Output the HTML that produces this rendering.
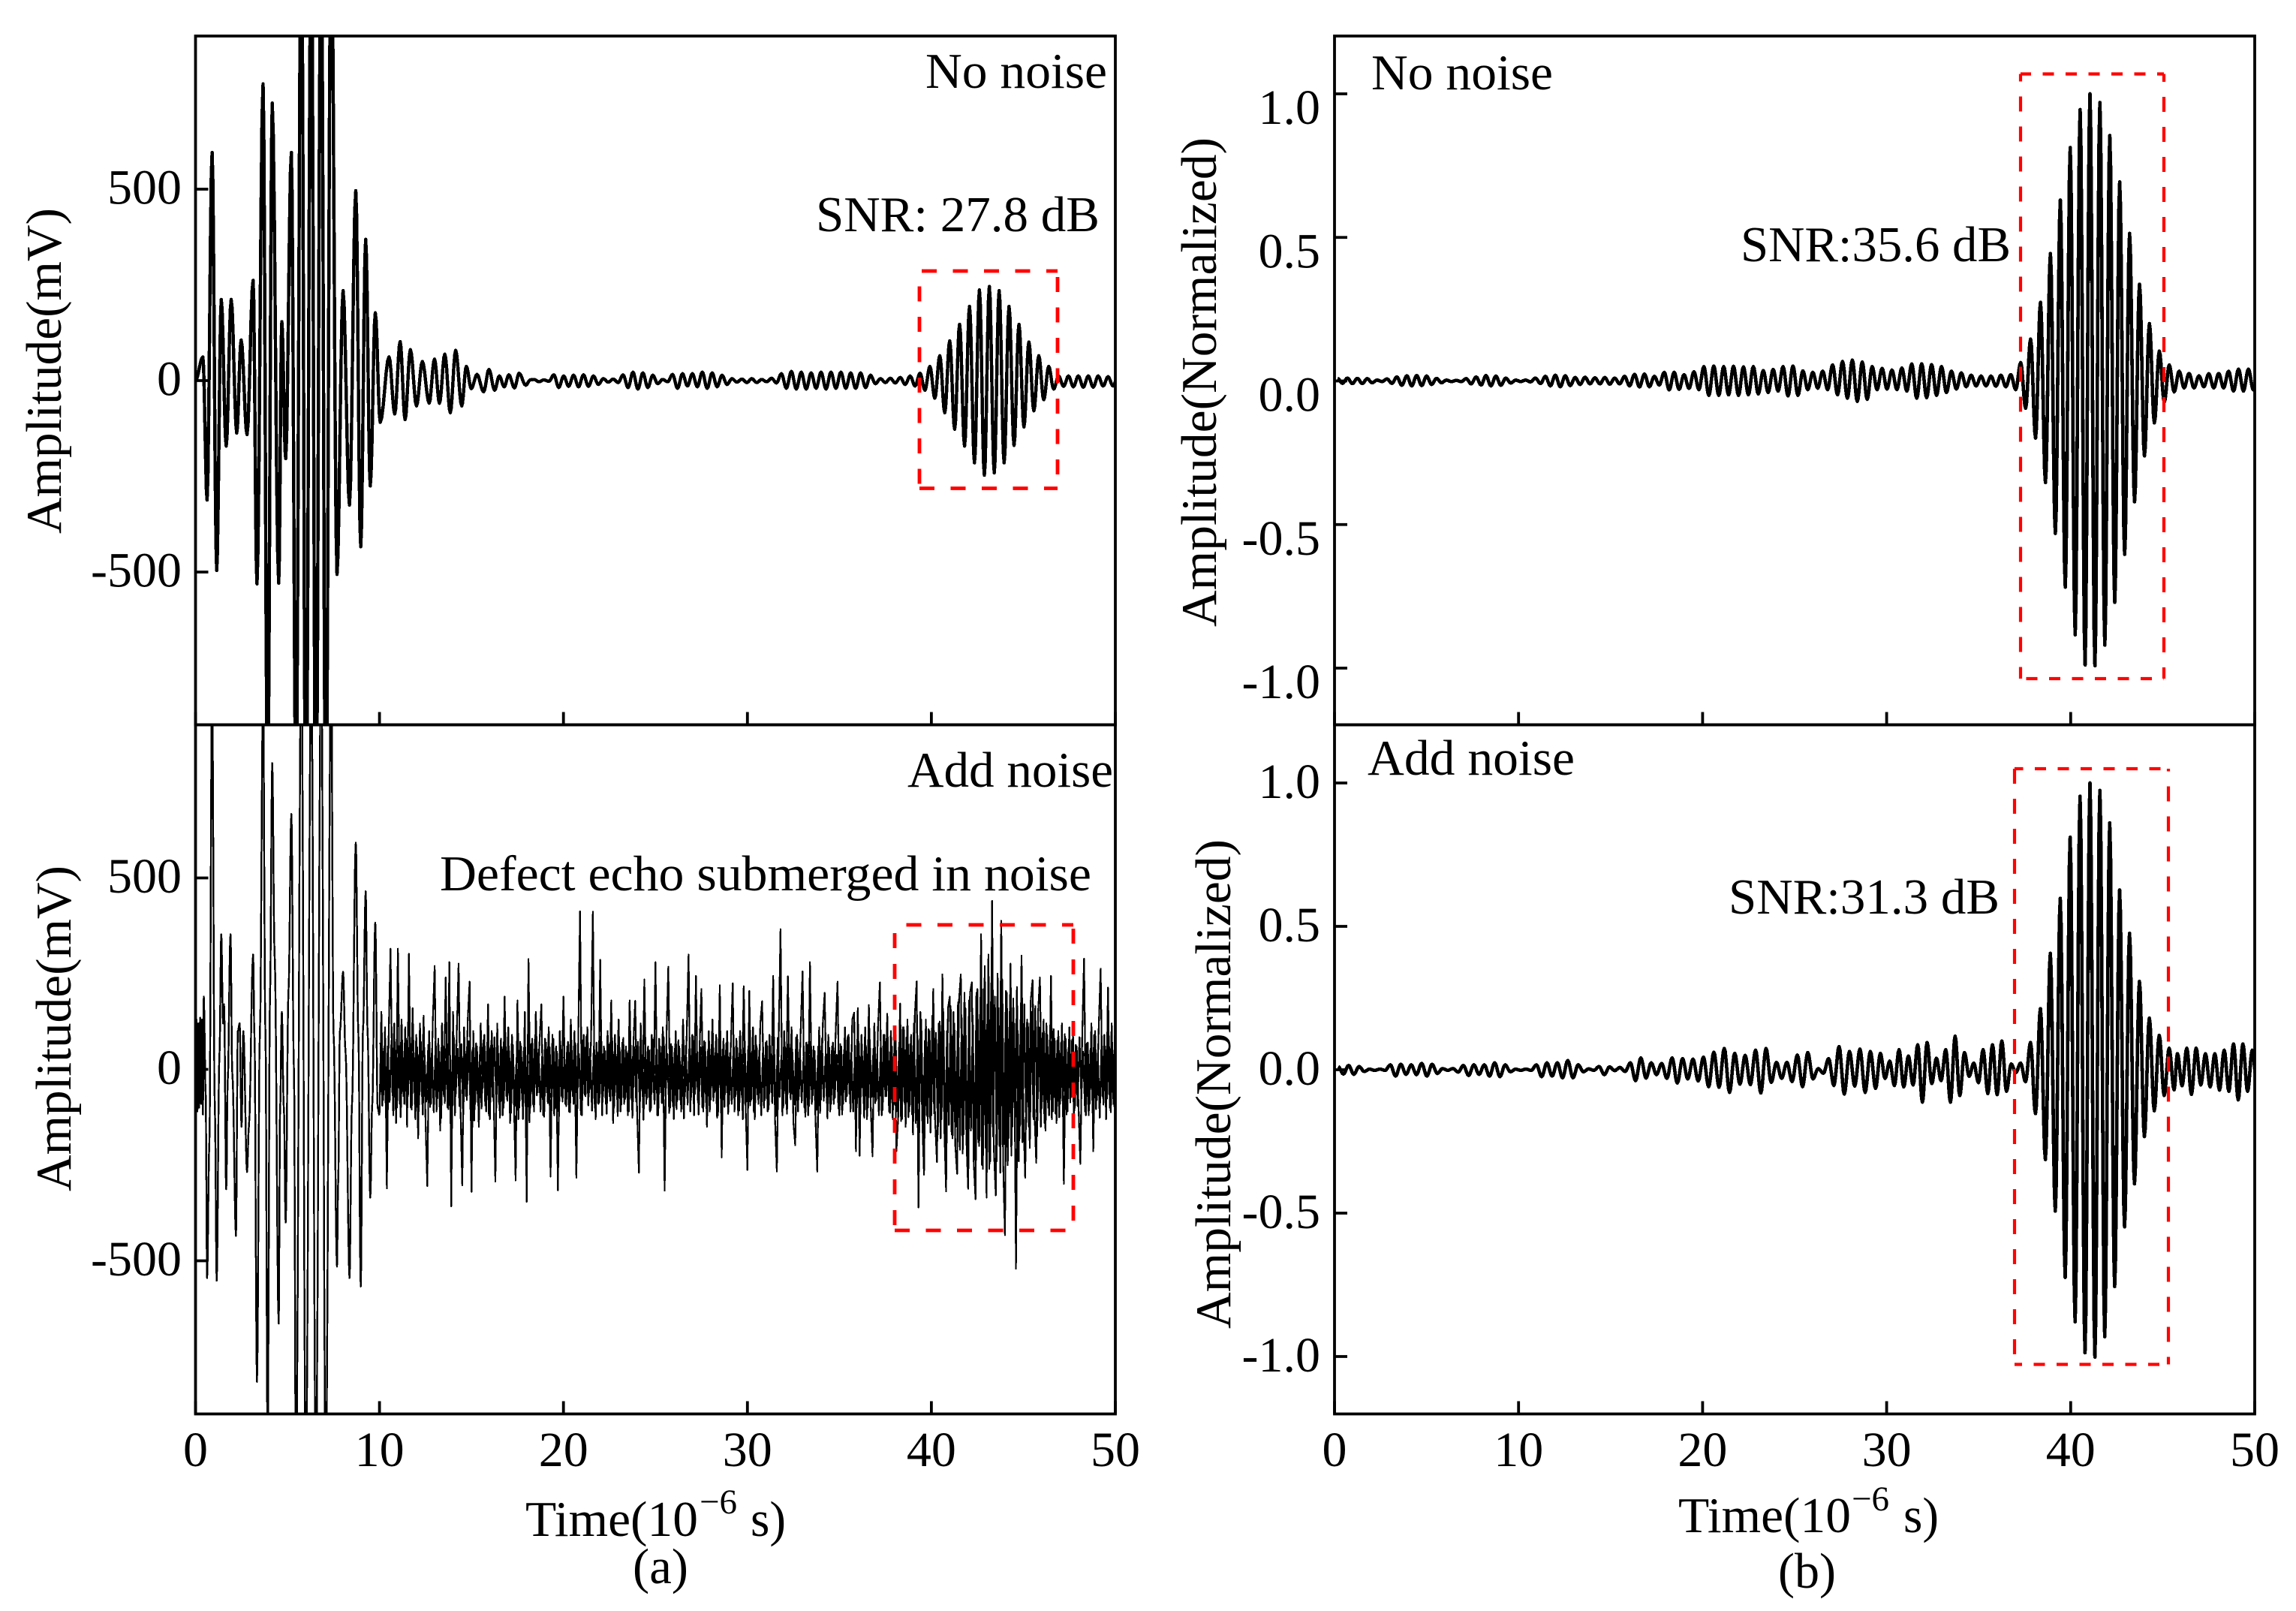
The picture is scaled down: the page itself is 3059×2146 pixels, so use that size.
<!DOCTYPE html>
<html>
<head>
<meta charset="utf-8">
<title>Ultrasonic echo signals</title>
<style>
html,body{margin:0;padding:0;background:#fff}
svg{display:block}
text{font-family:"Liberation Serif",serif;fill:#000;font-size:67px}
</style>
</head>
<body>
<svg id="chart" xmlns="http://www.w3.org/2000/svg" width="3059" height="2146" viewBox="0 0 3059 2146">
<rect width="3059" height="2146" fill="#fff"/>
<defs>
<clipPath id="clip-a-top"><rect x="260.5" y="48" width="1225.5" height="918"/></clipPath>
<clipPath id="clip-a-bottom"><rect x="260.5" y="965.5" width="1225.5" height="918"/></clipPath>
<clipPath id="clip-b-top"><rect x="1778" y="48" width="1226" height="918"/></clipPath>
<clipPath id="clip-b-bottom"><rect x="1778" y="965.5" width="1226" height="918"/></clipPath>
</defs>
<g id="traces"></g>
<g id="axes"></g>

<g stroke="#f00" stroke-width="4.8" fill="none">
<line x1="1225" y1="650.5" x2="1409" y2="650.5" stroke-dasharray="20 21.5"/>
<line x1="1409" y1="650.5" x2="1409" y2="361" stroke-dasharray="20 20.5" stroke-dashoffset="22"/>
<line x1="1409" y1="361" x2="1225" y2="361" stroke-dasharray="20 21.5" stroke-dashoffset="5"/>
<line x1="1225" y1="361" x2="1225" y2="650.5" stroke-dasharray="20 20.5" stroke-dashoffset="20"/>
</g>
<g stroke="#f00" stroke-width="4.8" fill="none">
<line x1="1192" y1="1639" x2="1430" y2="1639" stroke-dasharray="20 21.5"/>
<line x1="1430" y1="1639" x2="1430" y2="1232" stroke-dasharray="20 21" stroke-dashoffset="28"/>
<line x1="1430" y1="1232" x2="1192" y2="1232" stroke-dasharray="20 21.5" stroke-dashoffset="5"/>
<line x1="1192" y1="1232" x2="1192" y2="1639" stroke-dasharray="20 21" stroke-dashoffset="30"/>
</g>
<g stroke="#f00" stroke-width="4.2" fill="none">
<line x1="2692" y1="904" x2="2883" y2="904" stroke-dasharray="15 15.5" stroke-dashoffset="23"/>
<line x1="2883" y1="904" x2="2883" y2="98.5" stroke-dasharray="20 20" stroke-dashoffset="5"/>
<line x1="2883" y1="98.5" x2="2692" y2="98.5" stroke-dasharray="15 15.5" stroke-dashoffset="6"/>
<line x1="2692" y1="98.5" x2="2692" y2="904" stroke-dasharray="20 20" stroke-dashoffset="10"/>
</g>
<g stroke="#f00" stroke-width="4.2" fill="none">
<line x1="2684" y1="1817.5" x2="2889" y2="1817.5" stroke-dasharray="15 15.5" stroke-dashoffset="5"/>
<line x1="2889" y1="1817.5" x2="2889" y2="1024" stroke-dasharray="20 20" stroke-dashoffset="10"/>
<line x1="2889" y1="1024" x2="2684" y2="1024" stroke-dasharray="15 15.5" stroke-dashoffset="20"/>
<line x1="2684" y1="1024" x2="2684" y2="1817.5" stroke-dasharray="20 20"/>
</g>

<text x="1233" y="117" textLength="242" lengthAdjust="spacingAndGlyphs">No noise</text>
<text x="1087" y="308" textLength="378" lengthAdjust="spacingAndGlyphs">SNR: 27.8 dB</text>
<text x="1209" y="1048" textLength="274" lengthAdjust="spacingAndGlyphs">Add noise</text>
<text x="586" y="1186" textLength="868" lengthAdjust="spacingAndGlyphs">Defect echo submerged in noise</text>
<text x="1827" y="119" textLength="242" lengthAdjust="spacingAndGlyphs">No noise</text>
<text x="2319" y="348" textLength="360" lengthAdjust="spacingAndGlyphs">SNR:35.6 dB</text>
<text x="1822" y="1032" textLength="276" lengthAdjust="spacingAndGlyphs">Add noise</text>
<text x="2303" y="1217" textLength="361" lengthAdjust="spacingAndGlyphs">SNR:31.3 dB</text>

<text transform="translate(81,711) rotate(-90)" textLength="434" lengthAdjust="spacingAndGlyphs">Amplitude(mV)</text>
<text transform="translate(94,1587) rotate(-90)" textLength="434" lengthAdjust="spacingAndGlyphs">Amplitude(mV)</text>
<text transform="translate(1620,835) rotate(-90)" textLength="652" lengthAdjust="spacingAndGlyphs">Amplitude(Normalized)</text>
<text transform="translate(1639,1770) rotate(-90)" textLength="652" lengthAdjust="spacingAndGlyphs">Amplitude(Normalized)</text>

<g>
<text x="700" y="2046" textLength="230" lengthAdjust="spacingAndGlyphs">Time(10</text>
<text x="932" y="2016" style="font-size:47px">−6</text>
<text x="1000" y="2046" textLength="47" lengthAdjust="spacingAndGlyphs">s)</text>
</g>
<g>
<text x="2236" y="2041" textLength="230" lengthAdjust="spacingAndGlyphs">Time(10</text>
<text x="2467" y="2012" style="font-size:47px">−6</text>
<text x="2536" y="2041" textLength="47" lengthAdjust="spacingAndGlyphs">s)</text>
</g>
<text x="843" y="2109" textLength="74" lengthAdjust="spacingAndGlyphs">(a)</text>
<text x="2369" y="2115" textLength="77" lengthAdjust="spacingAndGlyphs">(b)</text>
</svg>

<script>
// ---- tick values ----
const timeTicks = [0, 10, 20, 30, 40, 50];
const mvTicks = [500, 0, -500];
const mvTickLabels = ['500', '0', '-500'];
const normTicks = [1, 0.5, 0, -0.5, -1];
const normTickLabels = ['1.0', '0.5', '0.0', '-0.5', '-1.0'];

// ---- panel (a) top: clean signal, mV ----
const aTopEarlyTimes = [0,.4,.63,.9,1.15,1.4,1.67,1.94,2.24,2.48,2.8,3.13,3.34,3.67,3.92,4.17,4.52,4.69,4.9,5.21,5.46,5.75,6,6.29,6.54,6.83,7.08,7.37,7.69,8.02,8.37,8.71,8.98,9.25,9.5,9.77,10.04,10.52,10.83,11.12,11.39,11.68,12.01,12.33,12.7,12.99,13.26,13.55,13.85,14.14,14.47,14.72,14.99,15.3,15.66,15.95,16.26,16.51,16.78,17.03,17.34,17.59,17.95,18.2];
const aTopEarlyValues = [0,62,-312,596,-496,212,-171,212,-137,106,-141,262,-531,775,-1100,725,-529,154,-204,596,-1100,1250,-1250,1250,-1250,1250,-1250,1250,-506,235,-325,496,-434,369,-275,177,-109,62,-87,102,-102,81,-66,50,-59,56,-59,69,-84,79,-66,37,-21,16,-29,29,-25,12,-16,15,-19,19,-12,2];
const aTopLateStart = 18.4;
const aTopLateStep = 0.269;
const aTopLateValues = [3,-3,2,-2,
15,-18,12,-15,14,-16,15,-15,12,-10,
5,-4,4,-5,
15,-18,22,-22,20,-18,14,-8,
3,-3,
16,-20,18,-14,18,-16,22,-20,20,-16,14,-10,
5,-4,4,-5,5,-5,3,-3,6,-6,
18,-20,24,-22,22,-22,20,-20,22,-22,22,-20,22,-20,20,-20,20,-18,14,-8,
5,-5,6,-6,8,-10,12,-14,
19,-25,37,-46,65,-84,104,-127,147,-171,194,-215,237,-247,246,-241,235,-215,194,-169,147,-121,101,-79,65,-50,37,-22,12,
-15,12,-16,12,-17,12,-17,12,-14,10,-14,12];

// ---- panel (a) bottom: noisy signal, mV ----
const aBottomEarlyTimes = [0,.05,.1,.15,.2,.25,.3,.35,.4,.45,.55,.63,.75,.9,1.05,1.15,1.3,1.4,1.5,1.55,1.67,1.75,1.9,2,2.2,2.3,2.4,2.5,2.6,2.8,2.9,3.13,3.2,3.34,3.5,3.67,3.8,3.92,4.05,4.17,4.3,4.52,4.6,4.69,4.8,4.9,5.05,5.21,5.35,5.46,5.75,6,6.29,6.54,6.83,7.08,7.37,7.5,7.69,7.75,7.85,8.02,8.15,8.37,8.5,8.71,8.85,8.98,9.1,9.25,9.35,9.5,9.6,9.77,9.9,10];
const aBottomEarlyValues = [0,130,-110,120,-100,135,-90,130,-118,190,-60,-545,-200,1000,-100,-552,40,353,120,170,-313,-30,353,-10,-435,100,120,-150,100,-268,-150,300,100,-816,100,1000,100,-1000,200,800,300,-664,-100,150,-100,-400,200,667,0,-1100,1100,-1100,1100,-1100,1100,-1100,1100,100,-515,-300,100,255,50,-545,-100,592,100,-567,100,465,100,-335,-100,383,-100,-120];
const aBottomNoiseStart = 10;
const aBottomNoiseStep = 0.1;
const aBottomNoiseValues = [
-120,150,-80,110,-311,95,315,-60,120,-140,
315,-90,130,-70,110,-150,302,-100,160,-60,
90,-180,120,-70,140,-130,-305,100,-90,130,
270,-110,80,-160,120,-70,240,-100,280,-358,
150,-120,90,276,-90,-303,110,-70,130,229,
-320,100,-90,60,-150,120,-50,90,-110,170,
-130,100,-60,-293,120,-90,80,-120,190,-70,
110,-140,90,-60,-290,180,-100,60,-130,150,
-346,288,-100,80,-110,150,-60,70,170,-120,
80,-60,110,-280,90,-120,60,-316,100,-70,
190,-90,60,-110,130,-70,100,-283,60,413,
-120,90,-70,110,-60,80,412,-100,70,-90,
286,-120,60,-90,100,-70,180,-140,90,-60,
130,-110,70,-90,60,-120,180,-80,60,179,
-100,-270,120,-70,235,-90,60,-110,90,-60,
280,-120,80,-60,110,-317,90,268,-100,60,
-130,100,-80,60,-110,130,-70,90,300,-110,
90,-120,244,-80,60,210,-110,70,-150,100,
-80,130,-60,90,-120,220,-230,80,-60,100,
-90,60,225,-110,80,-120,100,-70,217,-90,
-263,205,-80,110,-130,60,-90,120,178,-100,
70,-110,90,-60,244,-130,-267,80,366,-120,
100,-90,243,-60,110,-140,-198,90,-70,110,
256,-100,70,-120,280,-90,60,-130,-267,110,
-80,120,200,-70,90,-110,60,-90,100,229,
-120,60,-90,110,-70,90,-110,130,148,-214,
160,-226,90,-70,110,-130,168,-90,-227,120,
-80,110,227,-120,90,-70,145,-110,100,-130,
90,-214,-120,172,-130,110,-150,130,-110,90,
-170,140,230,-361,150,-120,-275,130,-140,100,
-120,210,-130,-242,120,-180,248,-150,-319,160,
190,-170,150,-200,-273,180,248,-220,200,-180,
-312,200,227,-240,-339,210,-200,353,-260,270,
-335,300,-240,440,-210,-329,250,-200,388,-240,
-433,200,-180,276,-150,120,-521,100,-180,297,
-120,-283,130,-150,180,233,-110,-244,150,240,
-100,130,-160,90,-120,244,-110,80,-140,100,
-90,120,-299,80,-110,110,-70,90,-100,60,
-100,-247,90,289,-120,70,-90,120,-214,100,
-80,110,263,-70,90,-130,214,-100,120,-90,
150];
// Dense band of the noise that fills the middle of the trace between spikes
const aBottomBandStart = 10.05;
const aBottomBandStep = 0.1;
const aBottomBandValues = [
70,-95,55,-110,60,-85,75,-120,50,-100,
62,-125,48,-90,80,-70,66,-105,45,-130,
58,-92,72,-118,40,-84,64,-98,52,-112,
78,-76,46,-128,60,-88,70,-104,36,-116,
82,-64,54,-96,66,-122,44,-80,74,-108,
50,-134,68,-86,38,-102,76,-94,56,-120,
62,-72,84,-90,42,-126,58,-100,70,-82,
48,-114,64,-96,30,-130,72,-78,56,-106,
40,-138,66,-92,78,-68,52,-110,44,-124,
70,-88,58,-74,80,-102,46,-128,62,-84,
34,-96,72,-112,50,-90,68,-76,40,-118,
76,-66,86,-94,54,-108,60,-130,44,-86,
90,-70,48,-116,66,-82,74,-100,38,-122,
56,-92,82,-78,42,-110,64,-126,58,-84,
72,-98,36,-132,68,-74,50,-106,78,-90,
46,-120,60,-88,84,-70,40,-114,66,-96,
54,-104,76,-80,32,-128,62,-92,70,-72,
86,-64,44,-118,58,-100,74,-86,48,-110,
64,-82,38,-126,80,-76,52,-98,68,-116,
42,-90,72,-70,56,-108,34,-130,78,-84,
60,-94,46,-112,88,-66,50,-120,62,-80,
74,-104,40,-88,66,-122,82,-72,36,-100,
58,-116,70,-78,44,-92,84,-110,52,-86,
32,-124,64,-96,76,-68,48,-106,60,-114,
80,-82,42,-128,56,-90,70,-74,38,-102,
66,-118,50,-84,86,-64,44,-110,62,-94,
72,-80,34,-126,58,-100,78,-72,54,-88,
40,-120,68,-106,90,-70,46,-114,60,-92,
96,-110,70,-135,110,-90,84,-125,66,-118,
120,-140,88,-100,130,-155,75,-120,105,-165,
140,-115,95,-170,125,-130,150,-190,100,-145,
165,-180,120,-150,175,-210,135,-170,160,-225,
180,-160,140,-235,200,-190,150,-250,210,-205,
170,-260,225,-175,190,-240,160,-270,235,-195,
205,-250,150,-225,185,-165,215,-240,130,-190,
170,-145,120,-205,150,-130,165,-175,110,-150,
95,-140,120,-100,88,-130,105,-115,76,-125,
70,-100,92,-118,56,-86,78,-130,64,-96,
84,-72,46,-110,68,-120,54,-84,90,-104,
42,-126,72,-92,60,-76,80,-112,50,-98];

// ---- panel (b) top: normalized, clean ----
const bTopStart = 0.162;
const bTopStep = 0.269;
const bTopValues = [.009,-.008,.01,-.009,.009,-.009,.008,-.006,
.003,-.002,
.007,-.008,.014,-.015,.018,-.017,.019,-.016,.017,-.012,.009,-.006,
.003,-.002,.002,-.002,
.008,-.01,.014,-.014,.019,-.017,.017,-.015,.01,-.007,
.003,-.002,.003,-.003,
.01,-.009,.016,-.017,.02,-.02,.018,-.016,
.012,-.012,.013,-.01,.011,-.01,.012,-.011,.01,-.01,
.016,-.017,.023,-.021,.024,-.02,.016,-.014,
.03,-.031,.03,-.029,.022,-.026,.032,-.03,
.05,-.05,.052,-.05,.05,-.048,.051,-.05,.049,-.048,.05,-.045,
.036,-.04,.04,-.035,
.05,-.052,.052,-.05,
.035,-.03,.03,-.025,.034,-.03,
.056,-.048,.068,-.06,.073,-.071,.066,-.064,
.05,-.03,.044,-.028,.038,-.03,.045,-.035,
.059,-.06,.06,-.058,.057,-.05,.05,-.04,
.034,-.028,.028,-.02,.02,-.017,.017,-.017,.017,-.018,.02,-.02,.022,-.03,
.064,-.095,.146,-.199,.274,-.354,.444,-.531,.63,-.718,.813,-.884,.945,-.989,1.0,-.992,.97,-.92,.855,-.771,.693,-.604,.514,-.421,.337,-.261,.2,-.146,.104,-.073,.056,-.038,
.034,-.024,.026,-.024,.018,-.02,.025,-.024,.026,-.024,.034,-.035,.041,-.035,.041,-.031,.034,-.03];

// ---- panel (b) bottom: normalized, denoised ----
const bBottomEarlySpan = [0.2, 29.4];
const bBottomEarlyValues = [.011,-.015,.015,-.016,.011,-.006,.002,-.002,.002,-.002,
.017,-.022,.019,-.016,.017,-.017,.022,-.022,.019,-.013,.004,-.002,.004,-.008,
.015,-.02,.017,-.016,.017,-.022,.024,-.024,.017,-.007,.002,-.002,.002,-.002,
.017,-.024,.024,-.022,.024,-.028,.032,-.028,.017,-.007,.003,-.002,
.011,-.017,.01,-.003,.008,-.006,
.024,-.038,.041,-.029,.024,-.017,.022,-.03,.041,-.046,.039,-.032,.037,-.039,.044,-.059,.061,-.061,.074,-.079,.057,-.05,.05,-.052,.068,-.081,.074,-.044,.026,-.03,.026,-.041,.051,-.059,.06,-.032,.004,-.012,.039,-.055,.081,-.085,.064,-.057,.072,-.079,.064,-.065];
const bBottomMiddleSpan = [29.66, 37.02];
const bBottomMiddleValues = [.057,-.03,.03,-.055,.07,-.06,.048,-.053,.087,-.113,.095,-.048,.04,-.038,.07,-.113,.117,-.09,.06,-.023,.023,-.045,.07,-.083,.087,-.087,.1,-.075,.02,-.01];
const bBottomPacketSpan = [37.28, 45.62];
const bBottomPacketValues = [.023,-.042,.095,-.153,.213,-.313,.406,-.493,.598,-.724,.811,-.879,.954,-.987,1.0,-1.002,.974,-.931,.861,-.756,.627,-.548,.476,-.398,.308,-.233,.18,-.143,.12,-.09,.075,-.07];
const bBottomTailSpan = [45.8, 50.12];
const bBottomTailValues = [.056,-.056,.075,-.086,.075,-.053,.056,-.06,.056,-.071,.068,-.075,.09,-.105,.09,-.075,.068,-.05];

// ---- axis functions ----
const xA = t => 260.5 + t * 24.51;
const xB = t => 1778 + t * 24.52;
const yATop = v => 507 - v * 0.51;
const yABottom = v => 1424.5 - v * 0.51;
const yBTop = v => 507.5 - v * 382.5;
const yBBottom = v => 1425 - v * 382;

const NS = 'http://www.w3.org/2000/svg';
const tracesG = document.getElementById('traces');
const axesG = document.getElementById('axes');

function make(tag, attrs, parent) {
  const e = document.createElementNS(NS, tag);
  for (const k in attrs) e.setAttribute(k, attrs[k]);
  parent.appendChild(e);
  return e;
}
function spaced(values, start, step) { return values.map((_, i) => start + i * step); }
function spanned(values, span) {
  return values.map((_, i) => span[0] + i * (span[1] - span[0]) / (values.length - 1));
}
function smoothPath(times, values, x, y) {
  let d = 'M' + x(times[0]).toFixed(1) + ' ' + y(values[0]).toFixed(1);
  for (let i = 1; i < times.length; i++) {
    for (let s = 1; s <= 6; s++) {
      const f = s / 6, w = (1 - Math.cos(Math.PI * f)) / 2;
      const t = times[i - 1] + (times[i] - times[i - 1]) * f;
      const v = values[i - 1] + (values[i] - values[i - 1]) * w;
      d += 'L' + x(t).toFixed(1) + ' ' + y(v).toFixed(1);
    }
  }
  return d;
}
function straightPath(times, values, x, y) {
  return times.map((t, i) => (i ? 'L' : 'M') + x(t).toFixed(1) + ' ' + y(values[i]).toFixed(1)).join('');
}
function addTrace(d, clip, width, name) {
  const p = make('path', {d: d, fill: 'none', stroke: '#000', 'stroke-width': width, 'stroke-linejoin': 'round', 'shape-rendering': 'crispEdges', 'clip-path': 'url(#' + clip + ')'}, tracesG);
  
  
}

// ---- series ----
addTrace(smoothPath(
  aTopEarlyTimes.concat(spaced(aTopLateValues, aTopLateStart, aTopLateStep)),
  aTopEarlyValues.concat(aTopLateValues), xA, yATop), 'clip-a-top', 4.4, 'signal-trace-a-top');
addTrace(smoothPath(aBottomEarlyTimes, aBottomEarlyValues, xA, yABottom), 'clip-a-bottom', 2.4, 'signal-trace-a-bottom-early');
addTrace(straightPath(spaced(aBottomNoiseValues, aBottomNoiseStart, aBottomNoiseStep), aBottomNoiseValues, xA, yABottom), 'clip-a-bottom', 2.2, 'signal-trace-a-bottom-noise');
addTrace(straightPath(spaced(aBottomBandValues, aBottomBandStart, aBottomBandStep), aBottomBandValues, xA, yABottom), 'clip-a-bottom', 2.2, 'signal-trace-a-bottom-noise-band');
addTrace(smoothPath(spaced(bTopValues, bTopStart, bTopStep), bTopValues, xB, yBTop), 'clip-b-top', 4.6, 'signal-trace-b-top');
addTrace(smoothPath(
  spanned(bBottomEarlyValues, bBottomEarlySpan)
    .concat(spanned(bBottomMiddleValues, bBottomMiddleSpan))
    .concat(spanned(bBottomPacketValues, bBottomPacketSpan))
    .concat(spanned(bBottomTailValues, bBottomTailSpan)),
  bBottomEarlyValues.concat(bBottomMiddleValues, bBottomPacketValues, bBottomTailValues), xB, yBBottom), 'clip-b-bottom', 4.6, 'signal-trace-b-bottom');

// ---- axes ----
function addPanel(name, x, y, yTickVals, yTickLabs, labelOffset, labelRight, showXLabels) {
  const left = x(0), right = x(50), top = y.top, bottom = y.bottom;
  const frame = make('rect', {x: left, y: top, width: right - left, height: bottom - top, fill: 'none', stroke: '#000', 'stroke-width': 3.8}, axesG);
  
  
  timeTicks.forEach(t => {
    const tick = make('line', {x1: x(t), x2: x(t), y1: bottom, y2: bottom - 17, stroke: '#000', 'stroke-width': 3.8}, axesG);
    
    
    if (showXLabels) {
      const lab = make('text', {x: x(t), y: 1953, 'text-anchor': 'middle', style: 'font-size:66px'}, axesG);
      lab.textContent = String(t);
      
      
    }
  });
  yTickVals.forEach((v, i) => {
    const tick = make('line', {x1: left, x2: left + 17, y1: y.fn(v), y2: y.fn(v), stroke: '#000', 'stroke-width': 3.8}, axesG);
    
    
    const lab = make('text', {x: labelRight, y: y.fn(v) + labelOffset, 'text-anchor': 'end', style: 'font-size:66px'}, axesG);
    lab.textContent = yTickLabs[i];
    
    
  });
}
addPanel('panel-a-top', xA, {fn: yATop, top: 48, bottom: 965.5}, mvTicks, mvTickLabels, 19.5, 242, false);
addPanel('panel-a-bottom', xA, {fn: yABottom, top: 965.5, bottom: 1883.5}, mvTicks, mvTickLabels, 19.5, 242, true);
addPanel('panel-b-top', xB, {fn: yBTop, top: 48, bottom: 965.5}, normTicks, normTickLabels, 40, 1759, false);
addPanel('panel-b-bottom', xB, {fn: yBBottom, top: 965.5, bottom: 1883.5}, normTicks, normTickLabels, 20, 1759, true);
</script>
</body>
</html>
